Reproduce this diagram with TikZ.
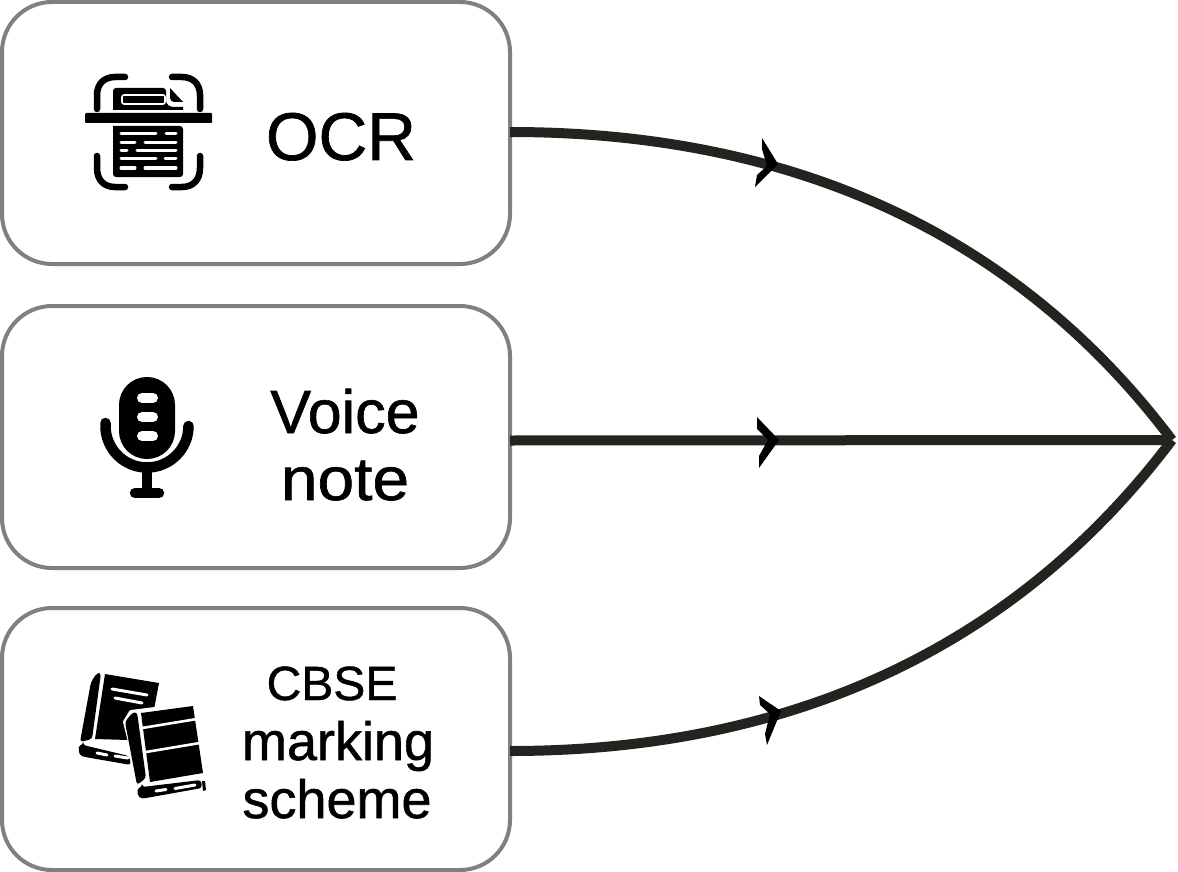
\documentclass[tikz,border=0pt]{standalone}
\usepackage{fontspec}
\usepackage{graphicx}
\setmainfont{Liberation Sans}
\newfontfamily\lblfont[FakeBold=1.0]{Liberation Sans}
\definecolor{linec}{HTML}{23241F}
\definecolor{boxc}{HTML}{808080}
\tikzset{
  card/.style={draw=boxc,line width=4pt,rounded corners=50pt,fill=white,minimum width=508pt,minimum height=262pt,inner sep=0pt,outer sep=0pt,anchor=north west},
  flow/.style={draw=linec,line width=10pt},
  lbl/.style={inner sep=0pt,text=black,align=center},
  stroke/.style={draw=black,line cap=round,line join=round},
  gap/.style={draw=white,line cap=round,line join=round}
}
\begin{document}
\begin{tikzpicture}[x=1pt,y=-1pt]
\useasboundingbox (0,0) rectangle (1178,872);
\node[card] (a) at (2,2) {};
\node[card] (b) at (2,306) {};
\node[card] (c) at (2,608) {};
\coordinate (hub) at (1172,440);
% connectors
\draw[flow] ([yshift=1pt]a.east) .. controls (780,132) and (1010,225) .. (hub);
\draw[flow] ([yshift=-3.5pt]b.east) -- (hub);
\draw[flow] ([yshift=-12pt]c.east) .. controls (780,751) and (1010,655) .. (hub);
% arrowheads
\fill (762,138) -- (778,164) -- (755,187) -- (757,175) -- (767,166) -- (762,149) -- cycle;
\fill (757,417) -- (779,440) -- (759,468) -- (759,456) -- (768,440) -- (757,429) -- cycle;
\fill (759,696) -- (781,711) -- (767,745) -- (765,734) -- (770,714) -- (760,705) -- cycle;
% labels
\node[lbl,font=\lblfont\fontsize{67.5}{67.5}\selectfont,anchor=base] (t1) at (341,160) {OCR};
\node[lbl,font=\lblfont\fontsize{61}{61}\selectfont,anchor=base] (t2) at (345,433) {Voice};
\node[lbl,font=\lblfont\fontsize{61}{61}\selectfont,anchor=base] (t3) at (345,500) {\scalebox{1.08}[1]{note}};
\node[lbl,font=\lblfont\fontsize{48}{48}\selectfont,anchor=base] (t4) at (332,700) {CBSE};
\node[lbl,font=\lblfont\fontsize{54}{54}\selectfont,anchor=base] (t5) at (338,760) {marking};
\node[lbl,font=\lblfont\fontsize{54}{54}\selectfont,anchor=base] (t6) at (337,818) {scheme};
% OCR icon
\fill[rounded corners=1pt] (85,113) rectangle (212,123);
\begin{scope}[stroke,line width=6.5pt]
\draw (97,109) -- (97,95) .. controls (97,84) and (104,77) .. (115,77) -- (125,77);
\draw (200,109) -- (200,95) .. controls (200,84) and (193,77) .. (182,77) -- (172,77);
\draw (97,156) -- (97,168) .. controls (97,180) and (104,187) .. (115,187) -- (125,187);
\draw (200,156) -- (200,168) .. controls (200,180) and (193,187) .. (182,187) -- (172,187);
\end{scope}
\fill (113,110) -- (113,91) [rounded corners=3pt] -- (113,88) -- (166,88) [sharp corners] -- (166,100) .. controls (166,105) and (170,107) .. (174,107) -- (183,107) -- (183,110) -- cycle;
\fill (170,88) -- (183,102) -- (174,102) .. controls (172,102) and (170,100) .. (170,98) -- cycle;
\draw[gap,line width=1.6pt,rounded corners=2pt] (122,95) rectangle (165,104);
\fill[rounded corners=3pt] (113,126) -- (113,177) -- (183,177) -- (183,126) [sharp corners] -- cycle;
\begin{scope}[gap,line width=3pt]
\draw (121,134) -- (156,134) (166,134) -- (176,134);
\draw (121,143) -- (135,143) (145,143) -- (176,143);
\draw (121,151) -- (127,151) (137,151) -- (176,151);
\draw (121,159) -- (156,159) (165,159) -- (176,159);
\draw (121,168) -- (135,168) (145,168) -- (176,168);
\end{scope}
% mic icon
\fill[rounded corners=27.9pt] (119,377) rectangle (175,459);
\begin{scope}[gap,line width=10pt]
\draw (142,398) -- (153,398) (142,417) -- (153,417) (142,436) -- (153,436);
\end{scope}
\begin{scope}[stroke,line width=10.5pt]
\draw (105.5,423) -- (105.5,426) arc[start angle=180,end angle=0,x radius=41.5,y radius=41.5];
\draw (147,467) -- (147,492);
\draw (135,493) -- (159,493);
\end{scope}
% books icon: back book
\fill[rounded corners=3pt] (91,682) -- (97,673) -- (101,673) -- (92,739) -- (80,742) -- cycle;
\fill (105,674) -- (159,683) -- (152,720) -- (128,740) -- (95,739) -- cycle;
\fill[rounded corners=3pt] (83,745) -- (129,756) -- (131,765) -- (85,757) .. controls (78,755) and (78,746) .. (83,745) -- cycle;
\begin{scope}[gap,line width=3pt]
\draw (112,689) -- (147,695);
\draw (115,698) -- (142,703);
\draw (97,753) -- (107,755) (115,756) -- (128,758);
\end{scope}
% front book
\draw[white,line width=4pt,line join=round,fill=white] (125,722) -- (131,712) -- (194,704) -- (204,773) -- (208,790) -- (145,801) -- cycle;
\fill[rounded corners=3pt] (125,722) -- (132,713) -- (137,712) -- (146,778) -- (137,785) -- cycle;
\fill (141,713) -- (193,706) -- (203,773) -- (150,782) -- cycle;
\begin{scope}[draw=white,line width=2.6pt]
\draw (142,728) -- (197,719);
\draw (146,752) -- (200,743);
\end{scope}
\fill[rounded corners=3pt] (142,787) -- (201,780) -- (202,788) -- (146,798) .. controls (137,799) and (136,789) .. (142,787) -- cycle;
\fill (202,781) -- (205,781) -- (206,790) -- (203,791) -- cycle;
\begin{scope}[gap,line width=3pt]
\draw (156,791) -- (166,789.5) (175,788.5) -- (195,785);
\end{scope}
\end{tikzpicture}
\end{document}
